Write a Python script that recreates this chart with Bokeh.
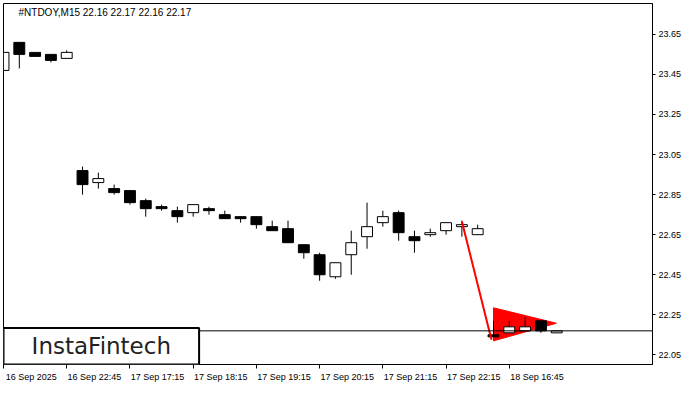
from bokeh.plotting import figure
from bokeh.models import Range1d, FixedTicker, Span, Label, BoxAnnotation, ColumnDataSource, PrintfTickFormatter
from bokeh.embed import file_html
from bokeh.resources import INLINE

# ---- data ----
symbol_title = "#NTDOY,M15  22.16 22.17 22.16 22.17"
last_price = 22.17

opens  = [23.47, 23.61, 23.56, 23.55, 23.53,
          22.97, 22.91, 22.88, 22.87, 22.82, 22.79, 22.77, 22.76, 22.78, 22.75, 22.74,
          22.74, 22.69, 22.68, 22.60, 22.55, 22.44, 22.55, 22.64, 22.71, 22.76, 22.64,
          22.65, 22.67, 22.69, 22.65,
          22.15, 22.16, 22.17, 22.22, 22.16]
highs  = [23.63, 23.61, 23.56, 23.55, 23.57,
          22.99, 22.96, 22.90, 22.87, 22.83, 22.80, 22.79, 22.80, 22.79, 22.77, 22.74,
          22.74, 22.72, 22.72, 22.60, 22.56, 22.51, 22.67, 22.81, 22.77, 22.77, 22.67,
          22.68, 22.71, 22.72, 22.70,
          22.22, 22.22, 22.24, 22.22, 22.17]
lows   = [23.47, 23.48, 23.54, 23.51, 23.53,
          22.85, 22.88, 22.85, 22.80, 22.74, 22.77, 22.71, 22.74, 22.75, 22.73, 22.71,
          22.68, 22.67, 22.61, 22.53, 22.42, 22.43, 22.45, 22.58, 22.69, 22.62, 22.56,
          22.64, 22.65, 22.64, 22.65,
          22.14, 22.16, 22.17, 22.16, 22.16]
closes = [23.56, 23.55, 23.54, 23.52, 23.56,
          22.90, 22.93, 22.86, 22.81, 22.78, 22.78, 22.74, 22.80, 22.77, 22.73, 22.73,
          22.70, 22.67, 22.61, 22.56, 22.45, 22.51, 22.61, 22.69, 22.74, 22.66, 22.62,
          22.66, 22.71, 22.70, 22.68,
          22.14, 22.19, 22.19, 22.17, 22.17]

x_tick_idx = [0, 4, 8, 12, 16, 20, 24, 28, 32]
x_tick_labels = ["16 Sep 2025", "16 Sep 22:45", "17 Sep 17:15", "17 Sep 18:15",
                 "17 Sep 19:15", "17 Sep 20:15", "17 Sep 21:15", "17 Sep 22:15",
                 "18 Sep 16:45"]
y_ticks = [22.05, 22.25, 22.45, 22.65, 22.85, 23.05, 23.25, 23.45, 23.65]

# pennant pattern (pole and flag), in bar index / price units
pole_x = [29.0, 30.875]
pole_y = [22.716, 22.126]
flag_x = [31.0, 31.0, 34.98]
flag_y = [22.285, 22.120, 22.208]

logo_text = "InstaFintech"

# ---- figure ----
X_START, X_END = 0.0, 41.06
Y_START, Y_END = 22.002, 23.804

p = figure(width=684, height=384, output_backend="svg", toolbar_location=None,
           x_range=Range1d(X_START, X_END), y_range=Range1d(Y_START, Y_END),
           y_axis_location="right", min_border=0)
p.min_border_left = 3
p.min_border_right = 0
p.min_border_top = 3
p.min_border_bottom = 0
p.grid.visible = False
p.outline_line_color = "black"
p.outline_line_width = 1
p.background_fill_color = "white"
p.border_fill_color = "white"

AX_FONT = "Liberation Sans"

# bottom axis: minor ticks at bar positions, labels shifted so they start at the tick
shift = 1.75
xa = p.xaxis[0]
xa.ticker = FixedTicker(ticks=[t + shift for t in x_tick_idx], minor_ticks=x_tick_idx)
xa.major_label_overrides = {t + shift: lab for t, lab in zip(x_tick_idx, x_tick_labels)}
xa.major_tick_out = 0
xa.major_tick_in = 0
xa.minor_tick_out = 4
xa.minor_tick_in = 0
xa.minor_tick_line_color = "black"
xa.axis_line_color = "black"
xa.major_label_standoff = 3
xa.major_label_text_font = AX_FONT
xa.major_label_text_font_size = "9px"
xa.major_label_text_color = "black"

ya = p.yaxis[0]
ya.ticker = FixedTicker(ticks=y_ticks)
ya.formatter = PrintfTickFormatter(format="%.2f")
ya.major_tick_out = 3
ya.major_tick_in = 0
ya.minor_tick_out = 0
ya.minor_tick_in = 0
ya.axis_line_color = "black"
ya.major_label_standoff = 3
ya.major_label_text_font = AX_FONT
ya.major_label_text_font_size = "9px"
ya.major_label_text_color = "black"

# ---- candles ----
idx = list(range(len(opens)))
up = [c >= o for o, c in zip(opens, closes)]
src = ColumnDataSource(dict(
    x=idx,
    high=highs, low=lows,
    top=[max(o, c) for o, c in zip(opens, closes)],
    bottom=[min(o, c) for o, c in zip(opens, closes)],
    fill=["white" if u else "black" for u in up],
))

# flag drawn behind the candles
p.patch(flag_x, flag_y, fill_color="#ff0000", line_color="#ff0000", line_width=1)

p.segment(x0="x", y0="low", x1="x", y1="high", source=src, line_color="black", line_width=1)
p.vbar(x="x", width=0.69, top="top", bottom="bottom", source=src,
       fill_color="fill", line_color="black", line_width=1)

p.line(pole_x, pole_y, line_color="#ff0000", line_width=2)

# last price line
p.add_layout(Span(location=last_price, dimension="width", line_color="black", line_width=1))

# price label on the axis
p.add_layout(Label(x=X_END, y=last_price, x_offset=2, text=f"{last_price:.2f}",
                   text_color="white", background_fill_color="black", padding=2,
                   text_font=AX_FONT, text_font_size="9px",
                   text_align="left", text_baseline="middle"))

# title
p.add_layout(Label(x=X_START, y=Y_END, x_offset=15, y_offset=-9, text=symbol_title,
                   text_color="black", text_font=AX_FONT, text_font_size="10px",
                   text_align="left", text_baseline="middle"))

# logo
logo_right = 12.375
logo_top = 22.184
p.add_layout(BoxAnnotation(left=X_START, right=logo_right, bottom=Y_START, top=logo_top,
                           fill_color="white", fill_alpha=1.0,
                           line_color="black", line_width=2, line_alpha=1.0))
p.add_layout(Label(x=(X_START + logo_right) / 2, y=(Y_START + logo_top) / 2, text=logo_text,
                   text_color="#222222", text_font="DejaVu Sans", text_font_size="23px",
                   text_align="center", text_baseline="middle"))

open("out.html", "w").write(file_html(p, INLINE))
